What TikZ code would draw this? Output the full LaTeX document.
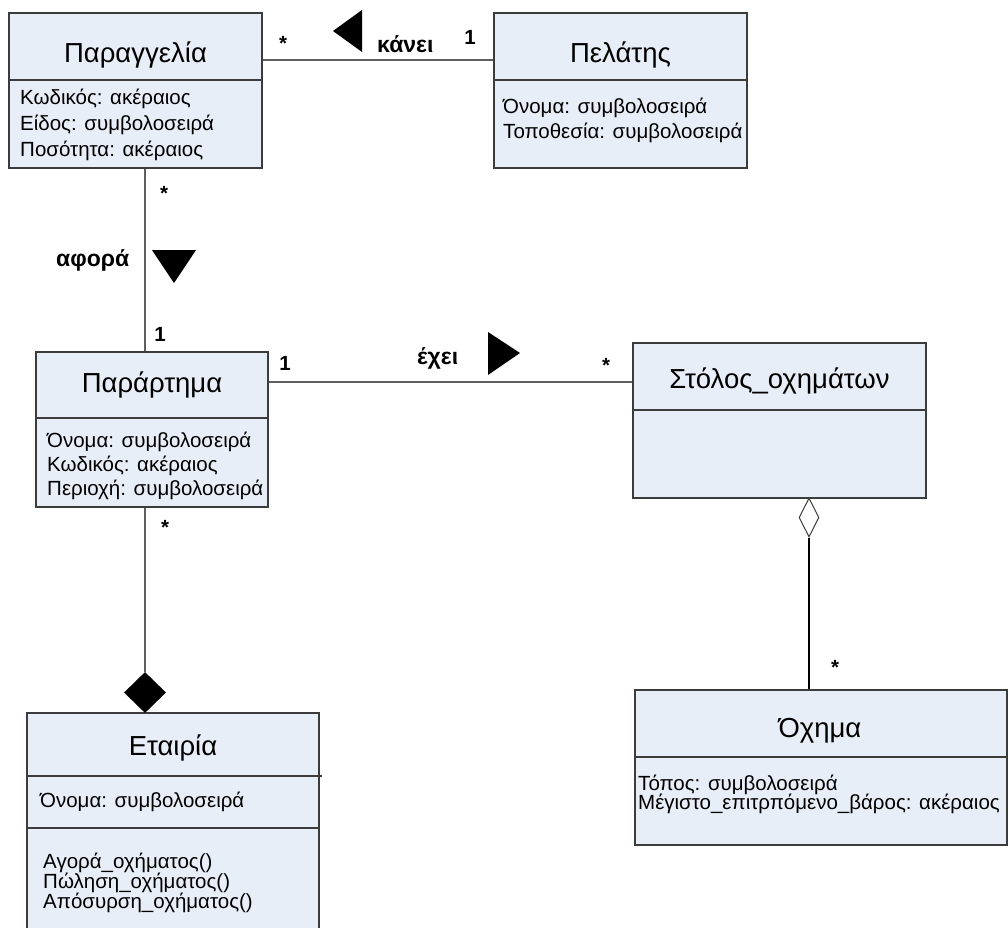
\documentclass[tikz,border=0pt]{standalone}
\usepackage{fontspec}
\setmainfont{Liberation Sans}
\usetikzlibrary{shapes.geometric}

\definecolor{classfill}{RGB}{232,238,247}
\definecolor{boxline}{RGB}{60,60,60}
\definecolor{connline}{RGB}{95,95,95}

\tikzset{
  classbox/.style={draw=boxline, fill=classfill, line width=1.1pt, inner sep=0pt, rectangle},
  divider/.style={draw=boxline, line width=1.1pt},
  conn/.style={draw=connline, line width=1.1pt},
  ctitle/.style={anchor=base, inner sep=0pt, font=\fontsize{27.5}{32}\selectfont},
  attr/.style={anchor=base west, inner sep=0pt, font=\fontsize{20.5}{24}\selectfont},
  assoc/.style={anchor=base west, inner sep=0pt, font=\bfseries\fontsize{23}{27}\selectfont},
  mult/.style={anchor=base, inner sep=0pt, font=\bfseries\fontsize{20.5}{24}\selectfont},
  dirmark/.style={fill=black, draw=none}
}

\begin{document}
\begin{tikzpicture}[x=1pt, y=-1pt]
  \useasboundingbox (0,0) rectangle (1008,927);
  \clip (0,0) rectangle (1008,927);

  % ---- classes ----
  \node[classbox, minimum width=253, minimum height=155] (ord)    at (135.5,90.5)  {};
  \node[classbox, minimum width=253, minimum height=155] (cust)   at (620.5,90.5)  {};
  \node[classbox, minimum width=232, minimum height=155] (branch) at (152,429.5)   {};
  \node[classbox, minimum width=293, minimum height=155] (fleet)  at (779.5,420.5) {};
  \node[classbox, minimum width=372, minimum height=155] (veh)    at (821,767.5)   {};
  \node[classbox, minimum width=292, minimum height=237] (comp)   at (173,831.5)   {};

  % compartment separators
  \draw[divider] (ord.west |- 0,80)    -- (ord.east |- 0,80);
  \draw[divider] (cust.west |- 0,80)   -- (cust.east |- 0,80);
  \draw[divider] (branch.west |- 0,418) -- (branch.east |- 0,418);
  \draw[divider] (fleet.west |- 0,410) -- (fleet.east |- 0,410);
  \draw[divider] (veh.west |- 0,757)   -- (veh.east |- 0,757);
  \draw[divider] (comp.west |- 0,776)  -- (322,776);
  \draw[divider] (comp.west |- 0,828)  -- (comp.east |- 0,828);

  % class names
  \node[ctitle] (ordT)    at (135.5,62) {Παραγγελία};
  \node[ctitle] (custT)   at (620.5,62) {Πελάτης};
  \node[ctitle] (branchT) at (152,392)  {Παράρτημα};
  \node[ctitle] (fleetT)  at (779.5,388) {Στόλος\_οχημάτων};
  \node[ctitle] (vehT)    at (820,737)  {Όχημα};
  \node[ctitle] (compT)   at (173,755)  {Εταιρία};

  % attributes
  \node[attr] (o1) at (20,104) {Κωδικός: ακέραιος};
  \node[attr] (o2) at (20,130) {Είδος: συμβολοσειρά};
  \node[attr] (o3) at (20,156) {Ποσότητα: ακέραιος};

  \node[attr] (c1) at (503,113) {Όνομα: συμβολοσειρά};
  \node[attr] (c2) at (503,138) {Τοποθεσία: συμβολοσειρά};

  \node[attr] (b1) at (47,447) {Όνομα: συμβολοσειρά};
  \node[attr] (b2) at (47,471) {Κωδικός: ακέραιος};
  \node[attr] (b3) at (47,495) {Περιοχή: συμβολοσειρά};

  \node[attr] (v1) at (638,790) {Τόπος: συμβολοσειρά};
  \node[attr] (v2) at (638,809) {Μέγιστο\_επιτρπόμενο\_βάρος: ακέραιος};

  \node[attr] (e1) at (40,807) {Όνομα: συμβολοσειρά};
  \node[attr] (m1) at (43,868) {Αγορά\_οχήματος()};
  \node[attr] (m2) at (43,888) {Πώληση\_οχήματος()};
  \node[attr] (m3) at (43,908) {Απόσυρση\_οχήματος()};

  % ---- association ends ----
  \coordinate (vx)  at (145,0);
  \coordinate (ax)  at (809,0);

  \node[diamond, fill=black, draw=none, minimum width=42, minimum height=41, inner sep=0pt] (compD) at (145,692.5) {};
  \node[diamond, fill=white, draw=boxline, line width=1pt, minimum width=20, minimum height=39, inner sep=0pt] (aggD) at (809,517.5) {};

  % ---- connectors ----
  \draw[conn] (ord.east |- 0,60) -- (cust.west |- 0,60);
  \draw[conn] (ord.south -| vx) -- (branch.north -| vx);
  \draw[conn] (branch.east |- 0,382) -- (fleet.west |- 0,382);
  \draw[conn] (branch.south -| vx) -- (compD.north);
  \draw[conn, draw=black] (aggD.south) -- (veh.north -| ax);

  % ---- association names and reading direction ----
  \node[assoc] (kanei) at (377,52)  {κάνει};
  \fill[dirmark] (333,31) -- (362,10) -- (362,52) -- cycle;

  \node[assoc] (afora) at (56,266)  {αφορά};
  \fill[dirmark] (152,250) -- (196,250) -- (174,283) -- cycle;

  \node[assoc] (echei) at (417,364) {έχει};
  \fill[dirmark] (488,332) -- (520,353) -- (488,375) -- cycle;

  % ---- multiplicities ----
  \node[mult] (m_ord_r)  at (283,50)  {*};
  \node[mult] (m_cust)   at (470,44)  {1};
  \node[mult] (m_ord_b)  at (164,200) {*};
  \node[mult] (m_br_t)   at (160,341) {1};
  \node[mult] (m_br_r)   at (285,370) {1};
  \node[mult] (m_fleet)  at (606,372) {*};
  \node[mult] (m_br_b)   at (165,534) {*};
  \node[mult] (m_veh)    at (835,674) {*};
\end{tikzpicture}
\end{document}
